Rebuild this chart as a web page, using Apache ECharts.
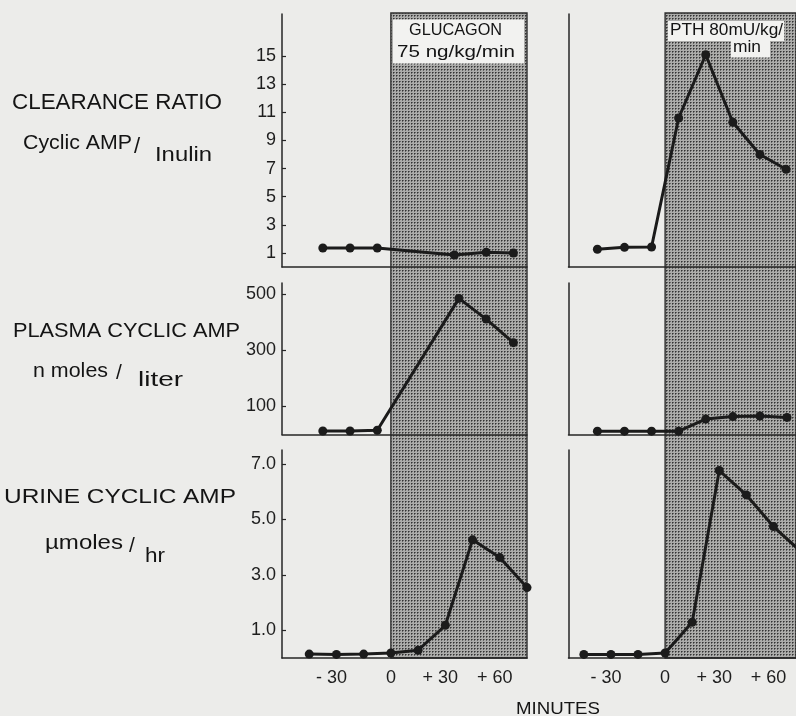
<!DOCTYPE html>
<html><head><meta charset="utf-8">
<script src="https://cdn.jsdelivr.net/npm/echarts@6/dist/echarts.min.js"></script>
<style>html,body{margin:0;padding:0;background:#ececea}#c{width:796px;height:716px}</style>
</head><body><div id="c"></div>
<script>
// ---- data ----
const glucClearanceX = [-37.5, -22.5, -7.5, 35, 52.5, 67.5];
const glucClearanceY = [1.35, 1.35, 1.35, 0.85, 1.05, 1.0];
const pthClearanceX = [-37.5, -22.5, -7.5, 7.5, 22.5, 37.5, 52.5, 67];
const pthClearanceY = [1.26, 1.4, 1.42, 10.6, 15.1, 10.3, 8.0, 6.95];
const glucPlasmaX = [-37.5, -22.5, -7.5, 37.5, 52.5, 67.5];
const glucPlasmaY = [12.5, 12.5, 15, 486, 412, 328];
const pthPlasmaX = [-37.5, -22.5, -7.5, 7.5, 22.5, 37.5, 52.5, 67.5];
const pthPlasmaY = [12, 12, 12, 12, 55, 64, 66, 61];
const urineX = [-45, -30, -15, 0, 15, 30, 45, 60, 75];
const glucUrineY = [0.14, 0.13, 0.14, 0.18, 0.28, 1.18, 4.26, 3.62, 2.54];
const pthUrineY = [0.13, 0.13, 0.13, 0.18, 1.29, 6.76, 5.88, 4.74, 3.85];
const clearanceTicks = [1, 3, 5, 7, 9, 11, 13, 15];
const plasmaTicks = [100, 300, 500];
const urineTicks = [1, 3, 5, 7];
const minuteTicks = [-30, 0, 30, 60];
const minuteSigns = ['- ', '', '+ ', '+ '];
const minuteNumbers = ['30', '0', '30', '60'];
const infusionStart = 0;

const zip = (xs, ys) => xs.map((x, i) => [x, ys[i]]);

// ---- layout ----
const FONT = '"Liberation Sans", Arial, sans-serif';
const INK = '#1b1b1b';
const BG = '#ececea';
const cols = [
  { left: 282, width: 245, min: -60, max: 75 },
  { left: 568.5, width: 228, min: -53.5, max: 72.5 }
];
const rows = [
  { top: 14, height: 253, max: 18, ticks: clearanceTicks, fmt: v => String(v) },
  { top: 283, height: 151.5, max: 541, ticks: plasmaTicks, fmt: v => String(v) },
  { top: 450, height: 208, max: 7.5, ticks: urineTicks, fmt: v => v.toFixed(1) }
];
const seriesData = [
  [zip(glucClearanceX, glucClearanceY), zip(pthClearanceX, pthClearanceY)],
  [zip(glucPlasmaX, glucPlasmaY), zip(pthPlasmaX, pthPlasmaY)],
  [zip(urineX, glucUrineY), zip(urineX, pthUrineY)]
];

// halftone pattern for the infusion period
const pc = document.createElement('canvas');
pc.width = 3; pc.height = 3;
const pctx = pc.getContext('2d');
pctx.fillStyle = '#acacaa'; pctx.fillRect(0, 0, 3, 3);
pctx.fillStyle = '#666666'; pctx.fillRect(1, 0, 1, 1); pctx.fillRect(0, 1, 1, 1);
pctx.fillStyle = '#333333'; pctx.fillRect(0, 0, 1, 1);

const xLabelFmt = v => {
  const i = minuteTicks.indexOf(v);
  return minuteSigns[i] ? '{s|' + minuteSigns[i] + '}{n|' + minuteNumbers[i] + '}{p|}' : '{n|' + minuteNumbers[i] + '}';
};
const xRich = {
  s: { fontFamily: FONT, fontSize: 18, color: '#1e1e1e' },
  n: { fontFamily: FONT, fontSize: 18, color: '#1e1e1e' },
  p: { width: 10 }
};

const grid = [], xAxis = [], yAxis = [], series = [];
rows.forEach((r, ri) => {
  cols.forEach((c, ci) => {
    const idx = grid.length;
    grid.push({ left: c.left, top: r.top, width: c.width, height: r.height });
    xAxis.push({
      type: 'value', gridIndex: idx, min: c.min, max: c.max, z: 6,
      axisLine: { show: true, onZero: false, lineStyle: { color: '#262626', width: 1.5 } },
      axisTick: { show: false }, splitLine: { show: false },
      axisLabel: ri === 2 ? {
        show: true, customValues: minuteTicks, margin: 11,
        formatter: xLabelFmt, rich: xRich,
        fontFamily: FONT, fontSize: 18, color: '#1e1e1e'
      } : { show: false }
    });
    yAxis.push({
      type: 'value', gridIndex: idx, min: 0, max: r.max, z: 6,
      axisLine: { show: true, onZero: false, lineStyle: { color: '#262626', width: 1.5 } },
      splitLine: { show: false },
      axisTick: ci === 0 ? { show: true, inside: true, length: 4, customValues: r.ticks, lineStyle: { color: '#262626', width: 1.2 } } : { show: false },
      axisLabel: ci === 0 ? { show: true, customValues: r.ticks, formatter: r.fmt, margin: 6, fontFamily: FONT, fontSize: 18, color: '#1e1e1e' } : { show: false }
    });
    series.push({
      type: 'line', xAxisIndex: idx, yAxisIndex: idx, data: seriesData[ri][ci],
      symbol: 'circle', symbolSize: 9, clip: true, z: 8,
      lineStyle: { color: INK, width: 3 }, itemStyle: { color: INK }
    });
  });
});

// full-height shading grids (one per column)
cols.forEach((c) => {
  const idx = grid.length;
  grid.push({ left: c.left, top: 13, width: c.width, height: 645 });
  xAxis.push({ type: 'value', gridIndex: idx, min: c.min, max: c.max, show: false });
  yAxis.push({ type: 'value', gridIndex: idx, min: 0, max: 1, show: false });
  series.push({
    type: 'line', xAxisIndex: idx, yAxisIndex: idx, data: [[c.min, 0.5]], symbol: 'none',
    lineStyle: { opacity: 0 }, z: -5, silent: true,
    markArea: {
      silent: true,
      itemStyle: { color: { image: pc, repeat: 'repeat' }, borderColor: '#2e2e2e', borderWidth: 1.4 },
      data: [[{ xAxis: infusionStart }, { xAxis: c.max }]]
    }
  });
});

// text helpers
const mctx = document.createElement('canvas').getContext('2d');
function txt(text, x, y, size, w) {
  mctx.font = size + 'px ' + FONT;
  const s = w ? w / mctx.measureText(text).width : 1;
  return { type: 'text', x: x, y: y, scaleX: s, z: 100,
    style: { text: text, fontSize: size, fontFamily: FONT, fill: '#141414', align: 'left', verticalAlign: 'middle', textAlign: 'left', textVerticalAlign: 'middle' } };
}
const box = (x, y, w, h) => ({ type: 'rect', z: 99, shape: { x: x, y: y, width: w, height: h }, style: { fill: '#f2f2f0' } });

const graphic = [
  txt('CLEARANCE RATIO', 12, 103, 22, 210),
  txt('Cyclic AMP', 23, 143, 21, 109),
  txt('/', 134, 147, 22),
  txt('Inulin', 155, 155, 21, 57),
  txt('PLASMA CYCLIC AMP', 13, 331, 21, 227),
  txt('n moles', 33, 371, 21, 75),
  txt('/', 116, 373, 21),
  txt('liter', 138, 380, 21, 45),
  txt('URINE CYCLIC AMP', 4, 497, 21, 232),
  txt('\u00B5moles', 45, 543, 21, 78),
  txt('/', 129, 546, 21),
  txt('hr', 145, 556, 21, 20),
  txt('MINUTES', 516, 709, 17, 84),
  box(393, 19.5, 131, 44),
  txt('GLUCAGON', 409, 30, 17, 93),
  txt('75 ng/kg/min', 397, 52, 17, 118),
  box(668, 21, 116, 20),
  box(731, 40.5, 39, 17),
  txt('PTH 80mU/kg/', 670, 30, 17, 113),
  txt('min', 733, 47.5, 17, 28)
];

const chart = echarts.init(document.getElementById('c'));
chart.setOption({
  animation: false, backgroundColor: BG,
  grid: grid, xAxis: xAxis, yAxis: yAxis, series: series, graphic: graphic
});
</script></body></html>
